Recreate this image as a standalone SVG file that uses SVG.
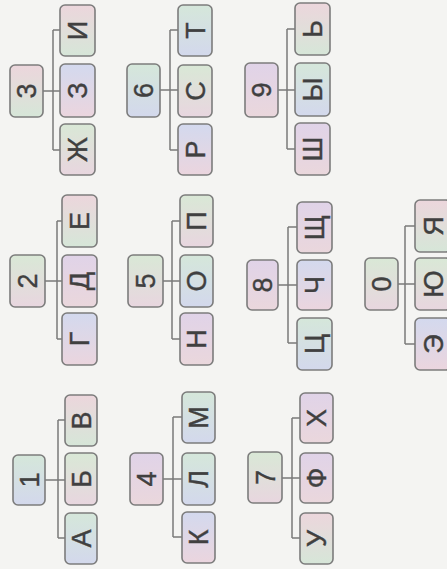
<svg xmlns="http://www.w3.org/2000/svg" width="447" height="569" viewBox="0 0 447 569">
<defs>
<linearGradient id="pg" x1="0" y1="0" x2="0" y2="1"><stop offset="0" stop-color="#ecd6dc"/><stop offset="1" stop-color="#d6e6d8"/></linearGradient>
<linearGradient id="bp" x1="0" y1="0" x2="0" y2="1"><stop offset="0" stop-color="#d3d9ee"/><stop offset="1" stop-color="#ebd5de"/></linearGradient>
<linearGradient id="gb" x1="0" y1="0" x2="0" y2="1"><stop offset="0" stop-color="#d5e7da"/><stop offset="1" stop-color="#d3d8ec"/></linearGradient>
<linearGradient id="lp" x1="0" y1="0" x2="0" y2="1"><stop offset="0" stop-color="#e0d3e8"/><stop offset="1" stop-color="#ead7dc"/></linearGradient>
<linearGradient id="gp" x1="0" y1="0" x2="0" y2="1"><stop offset="0" stop-color="#d9e8d6"/><stop offset="1" stop-color="#e8d6df"/></linearGradient>
</defs>
<style>
rect.b{stroke:#7c7c7c;stroke-width:1.6}
text{font-family:"Liberation Sans",Arial,sans-serif;font-size:27px;fill:#404040;stroke:#404040;stroke-width:0.4;text-anchor:middle;dominant-baseline:central}
#connectors path{fill:none;stroke:#7a7a7a;stroke-width:1.5}
</style>
<rect width="447" height="569" fill="#f4f4f2"/>
<g id="connectors">
<path d="M43 91H60M53 30V150M53 30H60M53 150H60"/>
<path d="M160 90H178M170 30V150M170 30H178M170 150H178"/>
<path d="M278 90H295M287 29V149M287 29H295M287 149H295"/>
<path d="M45 281H62M57 221V339M57 221H62M57 339H62"/>
<path d="M163 281H180M172 221V339M172 221H180M172 339H180"/>
<path d="M278 285H297M288 227V343M288 227H297M288 343H297"/>
<path d="M398 284H415M405 226V344M405 226H415M405 344H415"/>
<path d="M45 480H65M58 420V538M58 420H65M58 538H65"/>
<path d="M163 479H182M173 417V537M173 417H182M173 537H182"/>
<path d="M282 478H300M292 418V538M292 418H300M292 538H300"/>
</g>
<g id="g3">
<rect class="b" x="10" y="65" width="33" height="52" rx="5" fill="url(#pg)"/><text transform="translate(27 91) rotate(-90)">3</text>
<rect class="b" x="60" y="5" width="35" height="51" rx="5" fill="url(#pg)"/><text transform="translate(78 30.5) rotate(-90)">И</text>
<rect class="b" x="60" y="64" width="35" height="53" rx="5" fill="url(#bp)"/><text transform="translate(78 90.5) rotate(-90)">З</text>
<rect class="b" x="60" y="124" width="35" height="51" rx="5" fill="url(#gp)"/><text transform="translate(78 149.5) rotate(-90)">Ж</text>
</g>
<g id="g6">
<rect class="b" x="127" y="64" width="33" height="53" rx="5" fill="url(#gb)"/><text transform="translate(144 90.5) rotate(-90)">6</text>
<rect class="b" x="178" y="5" width="34" height="51" rx="5" fill="url(#gb)"/><text transform="translate(195.5 30.5) rotate(-90)">Т</text>
<rect class="b" x="178" y="65" width="34" height="52" rx="5" fill="url(#gp)"/><text transform="translate(195.5 91) rotate(-90)">С</text>
<rect class="b" x="178" y="124" width="34" height="51" rx="5" fill="url(#bp)"/><text transform="translate(195.5 149.5) rotate(-90)">Р</text>
</g>
<g id="g9">
<rect class="b" x="245" y="63" width="33" height="54" rx="5" fill="url(#lp)"/><text transform="translate(262 90) rotate(-90)">9</text>
<rect class="b" x="295" y="3" width="35" height="52" rx="5" fill="url(#pg)"/><text transform="translate(313 29) rotate(-90)">Ь</text>
<rect class="b" x="295" y="63" width="35" height="53" rx="5" fill="url(#gb)"/><text transform="translate(313 89.5) rotate(-90)">Ы</text>
<rect class="b" x="295" y="123" width="35" height="52" rx="5" fill="url(#lp)"/><text transform="translate(313 149) rotate(-90)">Ш</text>
</g>
<g id="g2">
<rect class="b" x="10" y="255" width="35" height="52" rx="5" fill="url(#gp)"/><text transform="translate(28 281) rotate(-90)">2</text>
<rect class="b" x="62" y="195" width="35" height="52" rx="5" fill="url(#pg)"/><text transform="translate(80 221) rotate(-90)">Е</text>
<rect class="b" x="62" y="255" width="35" height="52" rx="5" fill="url(#lp)"/><text transform="translate(80 281) rotate(-90)">Д</text>
<rect class="b" x="62" y="313" width="35" height="52" rx="5" fill="url(#bp)"/><text transform="translate(80 339) rotate(-90)">Г</text>
</g>
<g id="g5">
<rect class="b" x="128" y="255" width="35" height="52" rx="5" fill="url(#gp)"/><text transform="translate(146 281) rotate(-90)">5</text>
<rect class="b" x="180" y="195" width="33" height="52" rx="5" fill="url(#gp)"/><text transform="translate(197 221) rotate(-90)">П</text>
<rect class="b" x="180" y="255" width="33" height="52" rx="5" fill="url(#gb)"/><text transform="translate(197 281) rotate(-90)">О</text>
<rect class="b" x="180" y="313" width="33" height="52" rx="5" fill="url(#lp)"/><text transform="translate(197 339) rotate(-90)">Н</text>
</g>
<g id="g8">
<rect class="b" x="247" y="260" width="31" height="50" rx="5" fill="url(#lp)"/><text transform="translate(263 285) rotate(-90)">8</text>
<rect class="b" x="297" y="202" width="35" height="51" rx="5" fill="url(#lp)"/><text transform="translate(315 227.5) rotate(-90)">Щ</text>
<rect class="b" x="297" y="260" width="35" height="50" rx="5" fill="url(#bp)"/><text transform="translate(315 285) rotate(-90)">Ч</text>
<rect class="b" x="297" y="318" width="35" height="52" rx="5" fill="url(#gb)"/><text transform="translate(315 344) rotate(-90)">Ц</text>
</g>
<g id="g0">
<rect class="b" x="365" y="258" width="33" height="52" rx="5" fill="url(#gp)"/><text transform="translate(382 284) rotate(-90)">0</text>
<rect class="b" x="415" y="200" width="36" height="52" rx="5" fill="url(#pg)"/><text transform="translate(433.5 226) rotate(-90)">Я</text>
<rect class="b" x="415" y="258" width="36" height="52" rx="5" fill="url(#gp)"/><text transform="translate(433.5 284) rotate(-90)">Ю</text>
<rect class="b" x="415" y="318" width="36" height="52" rx="5" fill="url(#bp)"/><text transform="translate(433.5 344) rotate(-90)">Э</text>
</g>
<g id="g1">
<rect class="b" x="13" y="455" width="32" height="50" rx="5" fill="url(#gb)"/><text transform="translate(29.5 480) rotate(-90)">1</text>
<rect class="b" x="65" y="395" width="32" height="51" rx="5" fill="url(#pg)"/><text transform="translate(81.5 420.5) rotate(-90)">В</text>
<rect class="b" x="65" y="453" width="32" height="52" rx="5" fill="url(#gp)"/><text transform="translate(81.5 479) rotate(-90)">Б</text>
<rect class="b" x="65" y="513" width="32" height="51" rx="5" fill="url(#gb)"/><text transform="translate(81.5 538.5) rotate(-90)">А</text>
</g>
<g id="g4">
<rect class="b" x="130" y="453" width="33" height="52" rx="5" fill="url(#lp)"/><text transform="translate(147 479) rotate(-90)">4</text>
<rect class="b" x="182" y="392" width="33" height="51" rx="5" fill="url(#gb)"/><text transform="translate(199 417.5) rotate(-90)">М</text>
<rect class="b" x="182" y="453" width="33" height="52" rx="5" fill="url(#gb)"/><text transform="translate(199 479) rotate(-90)">Л</text>
<rect class="b" x="182" y="512" width="33" height="51" rx="5" fill="url(#bp)"/><text transform="translate(199 537.5) rotate(-90)">К</text>
</g>
<g id="g7">
<rect class="b" x="248" y="452" width="34" height="51" rx="5" fill="url(#gp)"/><text transform="translate(265.5 477.5) rotate(-90)">7</text>
<rect class="b" x="300" y="393" width="33" height="50" rx="5" fill="url(#lp)"/><text transform="translate(317 418) rotate(-90)">Х</text>
<rect class="b" x="300" y="453" width="33" height="50" rx="5" fill="url(#lp)"/><text transform="translate(317 478) rotate(-90)">Ф</text>
<rect class="b" x="300" y="513" width="33" height="51" rx="5" fill="url(#pg)"/><text transform="translate(317 538.5) rotate(-90)">У</text>
</g>
</svg>
